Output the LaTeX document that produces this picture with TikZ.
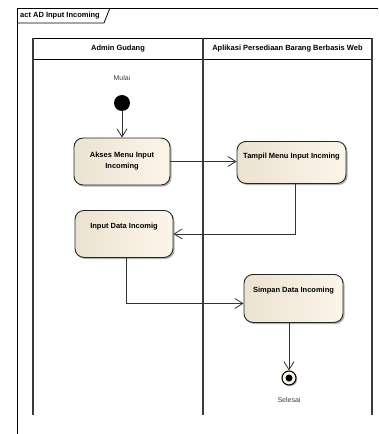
\documentclass[tikz,border=0pt]{standalone}
\usepackage{fontspec}
\setmainfont{Liberation Sans}
\usetikzlibrary{arrows.meta,shadows}
\definecolor{actL}{RGB}{236,226,209}
\definecolor{actR}{RGB}{252,245,234}
\definecolor{laneC}{RGB}{60,60,60}
\begin{document}
\begin{tikzpicture}[x=1pt,y=-1pt,
  act/.style={draw=black!85, line width=0.9pt, rounded corners=9pt,
    left color=actL, right color=actR,
    drop shadow={shadow xshift=1.6pt, shadow yshift=-1.6pt, fill=black, opacity=0.3},
    font=\bfseries\fontsize{7.5}{11}\selectfont, align=center, inner sep=0pt},
  conn/.style={draw=black!80, line width=0.8pt,
    -{Straight Barb[length=8pt,width=10pt,line width=0.8pt]}},
  lane/.style={draw=laneC, line width=1.2pt},
  hdr/.style={font=\bfseries\fontsize{7.5}{9}\selectfont},
  small/.style={font=\fontsize{7}{8}\selectfont, text=black!75}]
\useasboundingbox (0,0) rectangle (380,434);
% frame
\draw[line width=0.8pt] (17,434) -- (17,8) -- (378,8);
\draw[line width=0.8pt] (17,23) -- (104,23) -- (110,8);
\node[hdr, anchor=west, inner sep=0pt] (title) at (20,15.5) {act AD Input Incoming};
% swimlanes
\draw[line width=0.8pt] (33,38) -- (372,38);
\draw[line width=0.8pt] (33,59) -- (372,59);
\draw[lane] (33,38) -- (33,415);
\draw[lane] (203,38) -- (203,415);
\draw[lane] (372,38) -- (372,415);
\node[hdr] (laneA) at (118,48.5) {Admin Gudang};
\node[hdr] (laneB) at (287.5,48.5) {Aplikasi Persediaan Barang Berbasis Web};
% nodes
\node[small] (mulai) at (122,78) {Mulai};
\node[circle, fill=black, minimum size=16pt, inner sep=0pt] (start) at (122,103) {};
\node[act, minimum width=96pt, minimum height=47pt] (akses) at (122,161.5) {Akses Menu Input\\Incoming};
\node[act, anchor=north, minimum width=109pt, text height=17pt, text depth=25pt] (tampil) at (291.5,141) {Tampil Menu Input Incming};
\node[act, anchor=north, minimum width=98pt, text height=18pt, text depth=29pt] (input) at (124,210) {Input Data Incomig};
\node[act, anchor=north, minimum width=99pt, text height=18pt, text depth=30pt] (simpan) at (293.5,274) {Simpan Data Incoming};
\node[circle, draw=black, line width=1.1pt, fill=actR, minimum size=14pt, inner sep=0pt,
  drop shadow={shadow xshift=1.2pt, shadow yshift=-1.2pt, fill=black, opacity=0.3}] (final) at (289,378) {};
\fill (final.center) circle (3.5pt);
\node[small] (selesai) at (289,400) {Selesai};
% connectors
\draw[conn] (start) -- (akses.north -| start);
\draw[conn] (akses.east) -- (akses.east -| tampil.west);
\draw[conn] ([xshift=3.5pt]tampil.south) |- (input.east);
\draw[conn] ([xshift=2pt]input.south) |- ([yshift=-5pt]simpan.west);
\draw[conn] (simpan.south -| final) -- (final.north);
\end{tikzpicture}
\end{document}
